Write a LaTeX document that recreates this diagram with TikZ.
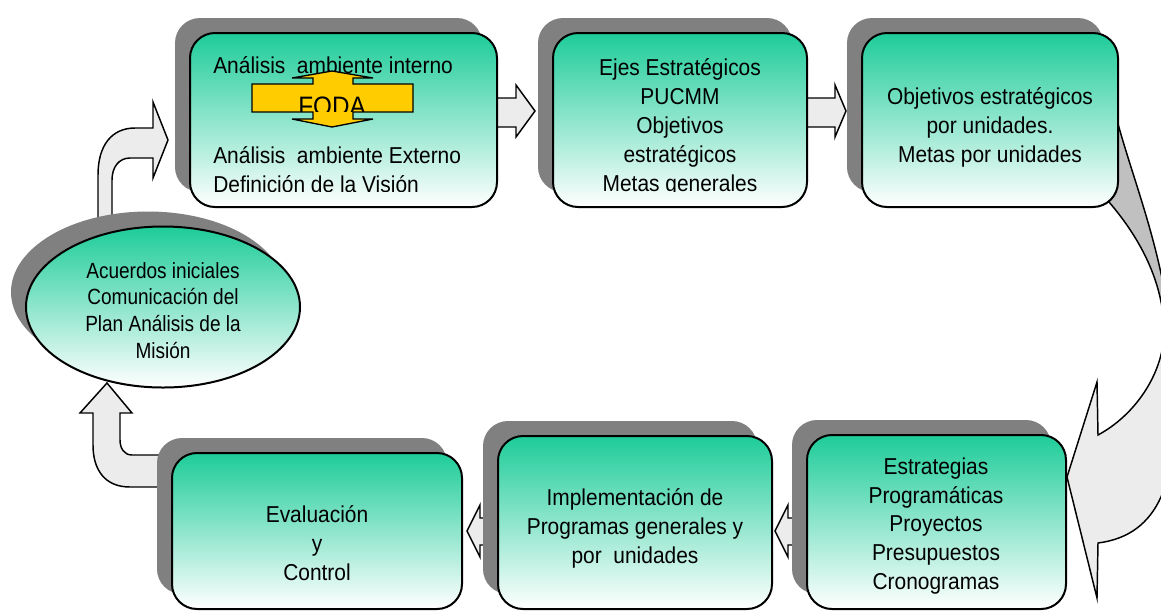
\documentclass[tikz,border=0pt]{standalone}
\usepackage{fontspec}
\setmainfont{Liberation Sans}
\newfontfamily\boxfont[FakeStretch=0.91]{Liberation Sans}
\newfontfamily\ellfont[FakeStretch=0.865]{Liberation Sans}
\usetikzlibrary{fit,shapes.geometric}
\definecolor{boxgreen}{RGB}{30,204,153}
\definecolor{shadowgray}{RGB}{128,128,128}
\definecolor{arrowfill}{RGB}{236,236,236}
\definecolor{ribbongray}{RGB}{192,192,192}
\definecolor{fodayellow}{RGB}{255,204,0}
\begin{document}
\begin{tikzpicture}[x=0.75pt,y=-0.75pt,
  boxfront/.style={draw=black, line width=1.5pt, rounded corners=18.75pt, top color=boxgreen, bottom color=white, inner sep=0pt},
  boxshadow/.style={fill=shadowgray, rounded corners=18.75pt, inner sep=0pt},
  blockarrow/.style={draw=black, line width=1.1pt, fill=arrowfill, line join=miter},
  txt/.style={font=\boxfont\fontsize{17.25pt}{21.75pt}\selectfont, align=center, inner sep=0pt, anchor=base},
  txtl/.style={font=\boxfont\fontsize{17.25pt}{21.75pt}\selectfont, align=left, inner sep=0pt, anchor=base west},
]
\useasboundingbox (0,0) rectangle (1161,612);

% ---------- big curved arrow on the right ----------
\def\bigarrowpath{(1100,192) .. controls (1145,240) and (1165,290) .. (1164,335)
  .. controls (1162,375) and (1135,415) .. (1098,435) -- (1097,382) -- (1067,477)
  -- (1097,598) -- (1098,543) .. controls (1160,535) and (1178,480) .. (1175,390)
  .. controls (1172,260) and (1130,180) .. (1112,100) -- cycle}
\fill[arrowfill] \bigarrowpath;
\begin{scope}
  \clip \bigarrowpath;
  \fill[ribbongray] (1040,0) rectangle (1200,330);
\end{scope}
\draw[black, line width=1.1pt, line join=miter] \bigarrowpath;

% ---------- small block arrows ----------
\draw[blockarrow] (490,98) -- (516,98) -- (516,85) -- (535,111) -- (516,137) -- (516,127) -- (490,127) -- cycle;
\draw[blockarrow] (800,98) -- (835,98) -- (835,85) -- (846,111) -- (835,137) -- (835,127) -- (800,127) -- cycle;
\draw[blockarrow] (800,518) -- (788,518) -- (788,505) -- (775,531) -- (788,557) -- (788,545) -- (800,545) -- cycle;
\draw[blockarrow] (490,518) -- (480,518) -- (480,505) -- (467,531) -- (480,557) -- (480,545) -- (490,545) -- cycle;

% ---------- bent arrows on the left ----------
\draw[blockarrow] (98,228) -- (98,175) .. controls (98,145) and (112,128) .. (135,128) -- (153,128)
  -- (153,102) -- (168,140) -- (153,178) -- (153,158) -- (130,158)
  .. controls (119,158) and (112,167) .. (112,180) -- (112,228) -- cycle;
\draw[blockarrow] (165,455) -- (132,455) .. controls (124,455) and (120,448) .. (120,440) -- (120,413)
  -- (132,413) -- (107,383) -- (80,413) -- (93,413) -- (93,445)
  .. controls (93,470) and (105,487) .. (130,487) -- (165,487) -- cycle;

% ---------- ellipse ----------
\node[ellipse, fill=shadowgray, minimum width=205.5pt, minimum height=120.75pt, inner sep=0pt] (ellsh) at (148,292) {};
\node[ellipse, draw=black, line width=1.5pt, top color=boxgreen, bottom color=white, minimum width=205.5pt, minimum height=120.75pt, inner sep=0pt] (ell) at (163,307) {};
\node[txt, font=\ellfont\fontsize{16.5pt}{20pt}\selectfont] (tell) at (163,358) {Acuerdos iniciales\\Comunicación del\\Plan Análisis de la\\Misión};

% ---------- boxes ----------
\node[boxshadow, fit={(175,18)(482,192)}] (b1s) {};
\node[boxfront, fit={(190,33)(497,207)}] (b1) {};
\node[boxshadow, fit={(538,18)(792,192)}] (b2s) {};
\node[boxfront, fit={(553,33)(807,207)}] (b2) {};
\node[boxshadow, fit={(847,18)(1103,192)}] (b3s) {};
\node[boxfront, fit={(862,33)(1118,207)}] (b3) {};
\node[boxshadow, fit={(157,438)(447,594)}] (b4s) {};
\node[boxfront, fit={(172,453)(462,609)}] (b4) {};
\node[boxshadow, fit={(483,421)(757,594)}] (b5s) {};
\node[boxfront, fit={(498,436)(772,609)}] (b5) {};
\node[boxshadow, fit={(792,420)(1051,594)}] (b6s) {};
\node[boxfront, fit={(807,435)(1066,609)}] (b6) {};

% ---------- texts ----------
\begin{scope}
  \clip (150,0) rectangle (850,191);
  \node[txtl] (t1a) at (213,73) {Análisis\ \ ambiente interno};
  \node[txtl] (t1b) at (213,192) {Análisis\ \ ambiente Externo\\Definición de la Visión};
  \node[txt] (t2) at (680,191) {Ejes Estratégicos\\PUCMM\\Objetivos\\estratégicos\\Metas generales};
\end{scope}
\node[txt] (t3) at (990,162) {Objetivos estratégicos\\por unidades.\\Metas por unidades};
\node[txt] (t4) at (317,580) {Evaluación\\y\\Control};
\node[txt] (t5) at (635,563) {Implementación de\\Programas generales y\\por\ \ unidades};
\node[txt, font=\boxfont\fontsize{17.25pt}{21.4pt}\selectfont] (t6) at (936,589) {Estrategias\\Programáticas\\Proyectos\\Presupuestos\\Cronogramas};

% ---------- FODA double arrow ----------
\draw[fill=fodayellow, draw=black, line width=1pt, line join=miter]
  (252,84) -- (313,84) -- (313,78) -- (292,78) -- (332,71) -- (373,78) -- (353,78) -- (353,84)
  -- (413,84) -- (413,112) -- (353,112) -- (353,119) -- (373,119) -- (332,127) -- (292,119)
  -- (313,119) -- (313,112) -- (252,112) -- cycle;
\begin{scope}
  \clip (253,85) rectangle (412,111);
  \node[txt, font=\boxfont\fontsize{20pt}{24pt}\selectfont] (foda) at (332,115) {FODA};
\end{scope}
\end{tikzpicture}
\end{document}
